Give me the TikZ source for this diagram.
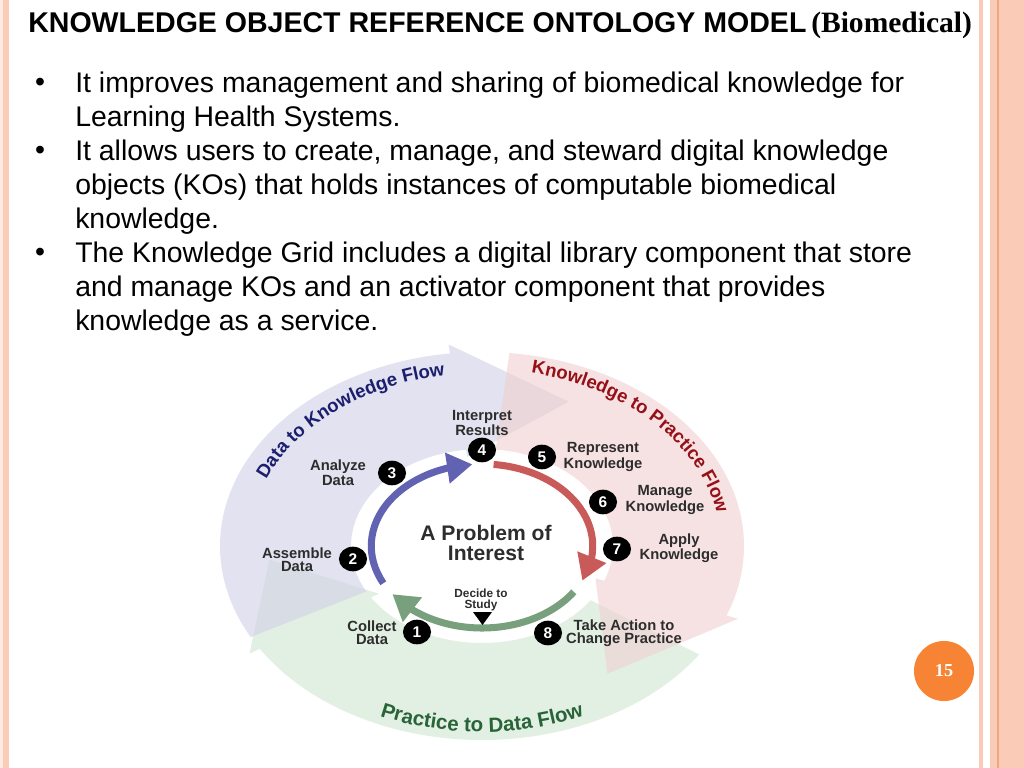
\documentclass[tikz,border=0pt]{standalone}
\usepackage{fontspec}
\setmainfont{Liberation Sans}
\newfontfamily\serifface{Liberation Serif}
\usetikzlibrary{arrows.meta,bending,decorations.text,shapes.geometric,positioning}

\definecolor{bandblue}{RGB}{208,208,230}
\definecolor{bandpink}{RGB}{240,208,208}
\definecolor{bandgreen}{RGB}{208,230,210}
\definecolor{arrblue}{RGB}{98,98,178}
\definecolor{arrred}{RGB}{200,90,90}
\definecolor{arrgreen}{RGB}{120,160,124}
\definecolor{txtblue}{RGB}{28,30,110}
\definecolor{txtred}{RGB}{150,16,24}
\definecolor{txtgreen}{RGB}{40,100,56}
\definecolor{labelgray}{RGB}{45,45,45}
\definecolor{slideorange}{RGB}{247,132,52}
\definecolor{stripe}{RGB}{250,204,184}
\definecolor{stripeline}{RGB}{242,166,128}

\newcommand{\flowfont}{\bfseries\fontsize{13.2pt}{14pt}\selectfont}
\newcommand{\bigflowfont}{\bfseries\fontsize{14.6pt}{15pt}\selectfont}
% one flow band: colour, tail angle, head base angle, head tip angle
\newcommand{\flowband}[4]{%
  \fill[band,#1] (#2:97) arc[start angle=#2,end angle=#3,radius=97] -- (#3:90)
    -- (#4:158) -- (#3:203) -- (#3:194) arc[start angle=#3,end angle=#2,radius=194] -- cycle;}

\tikzset{titletext/.style={anchor=base west,inner sep=0pt,font=\bfseries\fontsize{20.3pt}{22pt}\selectfont}}
\tikzset{subtitle/.style={inner sep=0pt,font=\serifface\bfseries\fontsize{21pt}{22pt}\selectfont}}
\tikzset{bullettext/.style={anchor=north west,align=left,inner sep=0pt,font=\fontsize{20.2pt}{24.2pt}\selectfont}}
\tikzset{bulletdot/.style={inner sep=0pt,font=\fontsize{20.2pt}{24.2pt}\selectfont}}
\tikzset{band/.style={fill opacity=0.6}}
\tikzset{steplabel/.style={align=center,inner sep=0pt,text=labelgray,font=\bfseries\fontsize{10.5pt}{9.3pt}\selectfont}}
\tikzset{numdot/.style={ellipse,fill=black,text=white,inner sep=0pt,minimum width=20pt,minimum height=17.5pt,font=\bfseries\fontsize{11pt}{11pt}\selectfont}}
\tikzset{cyclearrow/.style={line width=5pt,-{Triangle[width=21pt,length=18pt]}}}

\begin{document}
\begin{tikzpicture}[x=0.025cm,y=-0.025cm]
    % slide frame
    \useasboundingbox (0,0) rectangle (1024,768);
    \fill[white] (0,0) rectangle (1024,768);
    \fill[stripe!40] (0,0) rectangle (3,768);
    \fill[stripe] (3,0) rectangle (9,768);
    \fill[stripe] (979,0) rectangle (983,768);
    \fill[stripe] (990,0) rectangle (1024,768);
    \draw[stripeline,line width=0.8pt] (998,0) -- (998,768);

    % title
    \node[titletext] (title) at (28,33) {KNOWLEDGE OBJECT REFERENCE ONTOLOGY MODEL};
    \node[subtitle,base right=3pt of title] (sub) {(Biomedical)};

    % bullets
    \node[bulletdot] (d1) at (40,85) {•};
    \node[bullettext] (b1) at (75,72) {It improves management and sharing of biomedical knowledge for\\Learning Health Systems.};
    \node[bulletdot] (d2) at (40,153) {•};
    \node[bullettext] (b2) at (75,140) {It allows users to create, manage, and steward digital knowledge\\objects (KOs) that holds instances of computable biomedical\\knowledge.};
    \node[bulletdot] (d3) at (40,255) {•};
    \node[bullettext] (b3) at (75,242) {The Knowledge Grid includes a digital library component that store\\and manage KOs and an activator component that provides\\knowledge as a service.};

    % the cycle
    \begin{scope}[shift={(482,546)},x=0.03375cm,y=0.025cm]
        % outer flows
        \flowband{bandgreen}{-34}{-148}{-175}
        \flowband{bandblue}{208}{97}{66}
        \flowband{bandpink}{84}{-21}{-54}
        \path[decorate,decoration={text along path,text align=center,
            text={|\flowfont\color{txtblue}|Data to Knowledge Flow}}]
            (172:173) arc[start angle=172,end angle=88,radius=173];
        \path[decorate,decoration={text along path,text align=center,
            text={|\flowfont\color{txtred}|Knowledge to Practice Flow}}]
            (92:177) arc[start angle=92,end angle=-8,radius=177];
        \path[decorate,decoration={text along path,text align=center,
            text={|\bigflowfont\color{txtgreen}|Practice to Data Flow}}]
            (220:186) arc[start angle=220,end angle=320,radius=186];
        % inner arrows
        \draw[cyclearrow,arrblue] (207:82) arc[start angle=207,end angle=95,radius=82];
        \draw[cyclearrow,arrred] (84:82) arc[start angle=84,end angle=-25,radius=82];
        \draw[cyclearrow,arrgreen] (-34:82) arc[start angle=-34,end angle=-144,radius=82];
    \end{scope}

    % steps
    \node[numdot] (n1) at (417,632) {1};
    \node[numdot] (n2) at (353,559) {2};
    \node[numdot] (n3) at (392,473) {3};
    \node[numdot] (n4) at (482,450) {4};
    \node[numdot] (n5) at (542,457) {5};
    \node[numdot] (n6) at (603,502) {6};
    \node[numdot] (n7) at (617,549) {7};
    \node[numdot] (n8) at (548,633) {8};
    \node[steplabel] (l1) at (372,633) {Collect\\Data};
    \node[steplabel] (l2) at (297,560) {Assemble\\Data};
    \node[steplabel] (l3) at (338,473) {Analyze\\Data};
    \node[steplabel] (l4) at (482,423) {Interpret\\Results};
    \node[steplabel] (l5) at (603,457) {Represent\\Knowledge};
    \node[steplabel] (l6) at (665,500) {Manage\\Knowledge};
    \node[steplabel] (l7) at (679,548) {Apply\\Knowledge};
    \node[steplabel] (l8) at (624,633) {Take Action to\\Change Practice};
    \node[steplabel,font=\bfseries\fontsize{8.4pt}{7.6pt}\selectfont] (decide) at (481,600) {Decide to\\Study};
    \fill[black] (473,612) -- (492,612) -- (482.5,625) -- cycle;
    \node[steplabel,font=\bfseries\fontsize{15pt}{14.2pt}\selectfont] (problem) at (486,543) {A Problem of\\Interest};

    % page number
    \node[circle,fill=slideorange,minimum size=42.7pt,inner sep=0pt,text=white,
        font=\serifface\bfseries\fontsize{13pt}{13pt}\selectfont] (page) at (944,671) {15};
\end{tikzpicture}
\end{document}
